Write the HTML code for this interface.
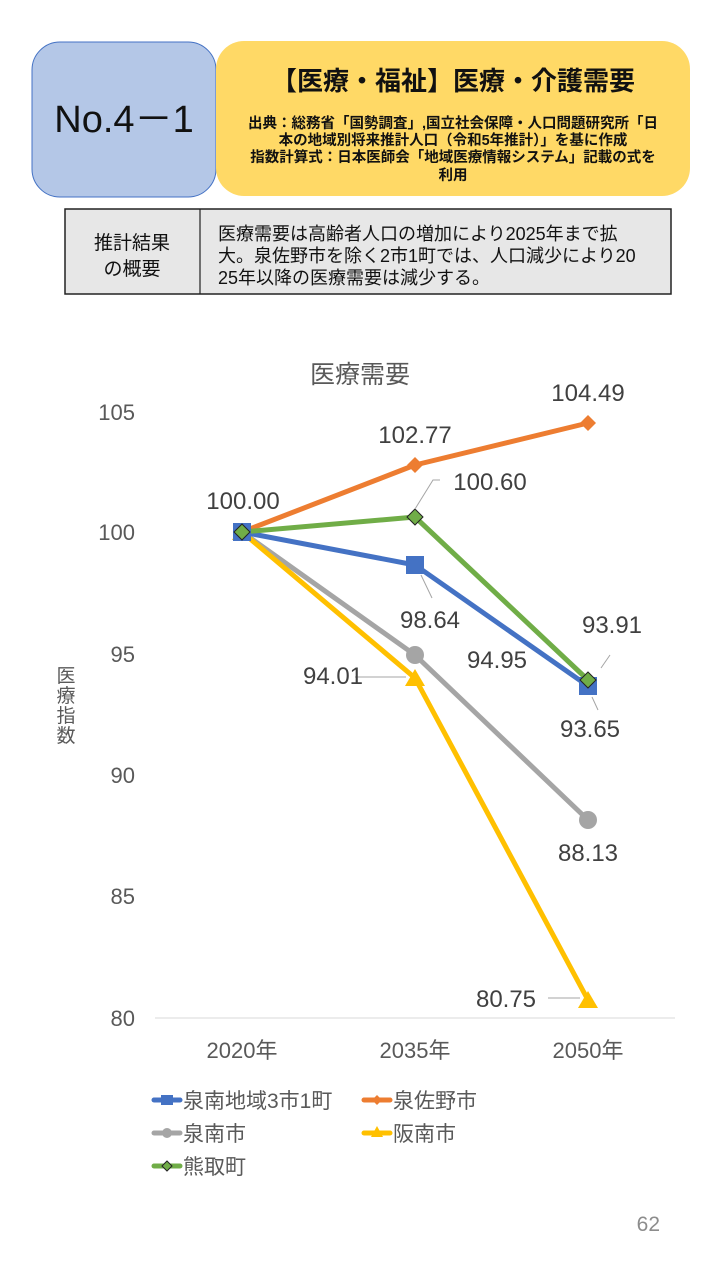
<!DOCTYPE html>
<html><head><meta charset="utf-8"><style>
body{margin:0;width:720px;height:1280px;background:#fff;overflow:hidden;font-family:"Liberation Sans","Noto Sans CJK JP",sans-serif;}
</style></head><body>
<svg width="720" height="1280" xmlns="http://www.w3.org/2000/svg" font-family="Liberation Sans, Noto Sans CJK JP, sans-serif">
<rect x="32" y="42" width="184" height="155" rx="28" fill="#b4c7e7" stroke="#4472c4" stroke-width="1"/>
<text x="124" y="132" text-anchor="middle" font-size="38" fill="#111">No.4－1</text>
<rect x="216" y="41" width="474" height="155" rx="28" fill="#ffd966"/>
<text x="453" y="90" text-anchor="middle" font-size="26" font-weight="bold" fill="#111">【医療・福祉】医療・介護需要</text>
<g font-size="14.5" font-weight="bold" fill="#111" text-anchor="middle">
<text x="453" y="128">出典：総務省「国勢調査」,国立社会保障・人口問題研究所「日</text>
<text x="453" y="145">本の地域別将来推計人口（令和5年推計）」を基に作成</text>
<text x="453" y="162">指数計算式：日本医師会「地域医療情報システム」記載の式を</text>
<text x="453" y="180">利用</text>
</g>
<rect x="65" y="209" width="606" height="85" fill="#e7e7e7" stroke="#222" stroke-width="1.5"/>
<line x1="200" y1="209" x2="200" y2="294" stroke="#222" stroke-width="1.2"/>
<g font-size="19" fill="#111">
<text x="132" y="249" text-anchor="middle">推計結果</text>
<text x="132" y="275" text-anchor="middle">の概要</text>
</g>
<g font-size="18" fill="#111">
<text x="218" y="240">医療需要は高齢者人口の増加により2025年まで拡</text>
<text x="218" y="262">大。泉佐野市を除く2市1町では、人口減少により20</text>
<text x="218" y="284">25年以降の医療需要は減少する。</text>
</g>
<text x="360" y="383" text-anchor="middle" font-size="25" fill="#595959">医療需要</text>
<g font-size="22" fill="#595959" text-anchor="end">
<text x="135" y="420">105</text><text x="135" y="540">100</text><text x="135" y="662">95</text>
<text x="135" y="783">90</text><text x="135" y="904">85</text><text x="135" y="1026">80</text>
</g>
<g font-size="19" fill="#595959" text-anchor="middle">
<text x="66" y="682">医</text><text x="66" y="702">療</text><text x="66" y="722">指</text><text x="66" y="742">数</text>
</g>
<line x1="155" y1="1018" x2="675" y2="1018" stroke="#d9d9d9"/>
<g font-size="22" fill="#595959" text-anchor="middle">
<text x="242" y="1058">2020年</text><text x="415" y="1058">2035年</text><text x="588" y="1058">2050年</text>
</g>
<g fill="none" stroke-width="5" stroke-linejoin="round">
<polyline points="242,532 415,465 588,423" stroke="#ed7d31"/>
<polyline points="242,532 415,655 588,820" stroke="#a5a5a5"/>
<polyline points="242,532 415,678 588,1000" stroke="#ffc000"/>
<polyline points="242,532 415,565 588,686" stroke="#4472c4"/>
<polyline points="242,532 415,517 588,680" stroke="#70ad47"/>
</g>
<g fill="#ed7d31"><path d="M415 457l8 8-8 8-8-8z"/><path d="M588 415l8 8-8 8-8-8z"/></g>
<g fill="#a5a5a5"><circle cx="415" cy="655" r="9"/><circle cx="588" cy="820" r="9"/></g>
<g fill="#ffc000"><path d="M242 523l10 17h-20z"/><path d="M415 669l10 17h-20z"/><path d="M588 991l10 17h-20z"/></g>
<g fill="#4472c4"><rect x="233" y="523" width="18" height="18"/><rect x="406" y="556" width="18" height="18"/><rect x="579" y="677" width="18" height="18"/></g>
<g fill="#70ad47" stroke="#222" stroke-width="1"><path d="M242 524l8 8-8 8-8-8z"/><path d="M415 509l8 8-8 8-8-8z"/><path d="M588 672l8 8-8 8-8-8z"/></g>
<g stroke="#a5a5a5" stroke-width="1" fill="none">
<polyline points="415,509 433,480 440,480"/><line x1="421" y1="575" x2="432" y2="598"/><line x1="601" y1="668" x2="610" y2="655"/>
<line x1="592" y1="697" x2="598" y2="710"/><line x1="355" y1="677" x2="406" y2="677"/><line x1="548" y1="998" x2="580" y2="998"/>
</g>
<g font-size="24" fill="#404040" text-anchor="middle">
<text x="243" y="509">100.00</text><text x="415" y="443">102.77</text><text x="588" y="401">104.49</text>
<text x="490" y="490">100.60</text><text x="430" y="628">98.64</text><text x="497" y="668">94.95</text>
<text x="333" y="684">94.01</text><text x="612" y="633">93.91</text><text x="590" y="737">93.65</text>
<text x="588" y="861">88.13</text><text x="506" y="1007">80.75</text>
</g>
<g stroke-width="5" stroke-linecap="round">
<line x1="154" y1="1100" x2="180" y2="1100" stroke="#4472c4"/><rect x="161" y="1095" width="12" height="10" fill="#4472c4"/>
<line x1="364" y1="1100" x2="390" y2="1100" stroke="#ed7d31"/>
<line x1="154" y1="1133" x2="180" y2="1133" stroke="#a5a5a5"/><circle cx="167" cy="1133" r="5" fill="#a5a5a5"/>
<line x1="364" y1="1133" x2="390" y2="1133" stroke="#ffc000"/><path d="M377 1126l6 11h-12z" fill="#ffc000"/>
<line x1="154" y1="1166" x2="180" y2="1166" stroke="#70ad47"/>
</g>
<path d="M377 1095l5 5-5 5-5-5z" fill="#ed7d31"/>
<path d="M167 1161l5 5-5 5-5-5z" fill="#70ad47" stroke="#222"/>
<g font-size="21" fill="#595959">
<text x="183" y="1108">泉南地域3市1町</text><text x="393" y="1108">泉佐野市</text>
<text x="183" y="1141">泉南市</text><text x="393" y="1141">阪南市</text>
<text x="183" y="1174">熊取町</text>
</g>
<text x="660" y="1231" text-anchor="end" font-size="21" fill="#8c8c8c">62</text>
</svg>
</body></html>
